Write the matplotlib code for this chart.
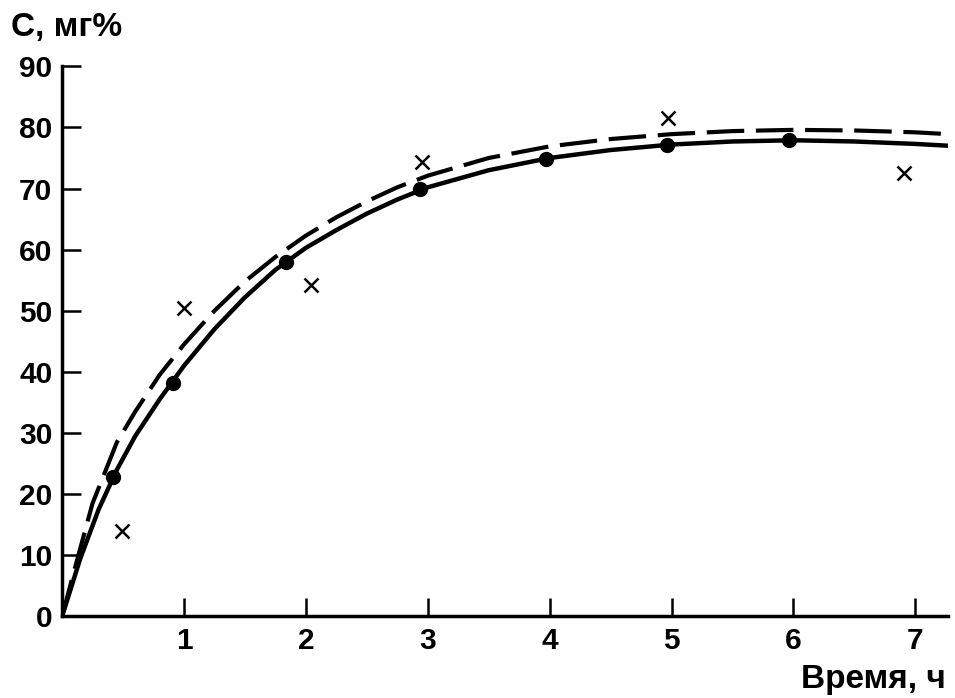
import matplotlib
matplotlib.use("Agg")
import matplotlib.pyplot as plt

plt.rcParams['font.family'] = ['Liberation Sans', 'DejaVu Sans']

# Measured points (filled circles)
dot_t = [0.42, 0.91, 1.84, 2.94, 3.97, 4.96, 5.96]
dot_c = [22.8, 38.2, 58.0, 70.0, 74.8, 77.1, 77.9]

# Measured points (crosses)
cross_t = [0.49, 1.00, 2.04, 2.95, 4.97, 6.91]
cross_c = [14.0, 50.4, 54.2, 74.3, 81.5, 72.5]

# Solid curve
solid_t = [0, 0.15, 0.3, 0.45, 0.6, 0.8, 1.0, 1.25, 1.5, 1.75, 2.0, 2.25, 2.5,
           2.75, 3.0, 3.5, 4.0, 4.5, 5.0, 5.5, 6.0, 6.5, 7.0, 7.27]
solid_c = [0, 9.5, 17.5, 24.0, 29.5, 35.5, 41.0, 47.0, 52.2, 56.7, 60.3, 63.2,
           65.9, 68.2, 70.2, 73.0, 75.0, 76.3, 77.2, 77.7, 77.9, 77.7, 77.3, 77.0]

# Dashed curve
dash_t = [0, 0.1, 0.25, 0.45, 0.6, 0.8, 1.0, 1.25, 1.5, 1.75, 2.0, 2.25, 2.5,
          2.75, 3.0, 3.5, 4.0, 4.5, 5.0, 5.5, 6.0, 6.5, 7.0, 7.27]
dash_c = [0, 7.5, 18.5, 28.5, 33.5, 39.5, 44.5, 50.0, 54.8, 58.8, 62.3, 65.3,
          67.9, 70.2, 72.1, 75.0, 76.9, 78.1, 78.9, 79.4, 79.6, 79.5, 79.2, 78.9]

x_ticks = [1, 2, 3, 4, 5, 6, 7]
y_ticks = [0, 10, 20, 30, 40, 50, 60, 70, 80, 90]

fig = plt.figure(figsize=(9.55, 6.98), dpi=100)
ax = fig.add_axes([0.065, 0.117, 0.928, 0.788])

ax.plot(solid_t, solid_c, color='black', lw=3.2, solid_capstyle='round',
        solid_joinstyle='round')
ax.plot(dash_t, dash_c, color='black', lw=3.0, dashes=(9, 2.8),
        dash_capstyle='butt')
ax.plot(dot_t, dot_c, 'o', color='black', ms=10)
ax.plot(cross_t, cross_c, 'x', color='black', ms=10, mew=1.8)

ax.set_xlim(0, 7.27)
ax.set_ylim(0, 90)
ax.set_xticks(x_ticks)
ax.set_yticks(y_ticks)
ax.set_xticklabels([str(v) for v in x_ticks])
ax.set_yticklabels([str(v) for v in y_ticks])

for s in ['top', 'right']:
    ax.spines[s].set_visible(False)
for s in ['left', 'bottom']:
    ax.spines[s].set_linewidth(2.5)

ax.tick_params(axis='y', direction='in', length=14, width=1.8, pad=7,
               labelsize=21.5)
ax.tick_params(axis='x', direction='in', length=13, width=1.8, pad=8,
               labelsize=21.5)
for lab in ax.get_xticklabels() + ax.get_yticklabels():
    lab.set_fontweight('bold')

fig.text(0.012, 0.96, 'C, мг%', fontsize=24, fontweight='bold', ha='left',
         va='center')
fig.text(0.99, 0.026, 'Время, ч', fontsize=24, fontweight='bold', ha='right',
         va='center')

fig.savefig('out.png', dpi=100)
